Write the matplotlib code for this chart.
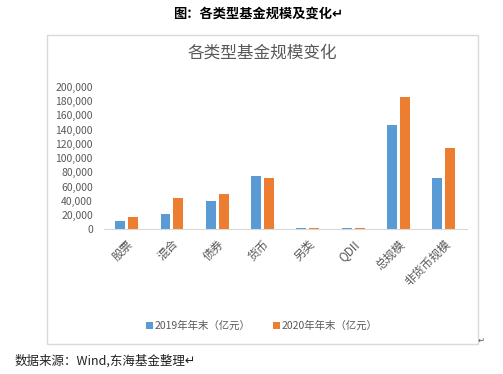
"""Grouped bar chart: fund size by type, 2019 vs 2020."""
import matplotlib.pyplot as plt
import numpy as np
from matplotlib.patches import Rectangle
from matplotlib.ticker import FuncFormatter

plt.rcParams['font.family'] = ['Noto Sans CJK SC', 'DejaVu Sans']

categories = ['股票', '混合', '债券', '货币', '另类', 'QDII', '总规模', '非货币规模']
size_2019 = [12000, 21500, 39700, 74700, 1500, 1200, 146200, 71900]
size_2020 = [17200, 43900, 49500, 71900, 1600, 1400, 185500, 114000]
series_names = ['2019年年末（亿元）', '2020年年末（亿元）']

blue = '#5b9bd5'
orange = '#ed7d31'
grey = '#595959'

W, H = 503, 374
fig = plt.figure(figsize=(W / 100, H / 100), dpi=100)

# chart frame
fig.patches.append(Rectangle((47 / W, 1 - 344 / H), (478 - 47) / W, (344 - 35) / H,
                             transform=fig.transFigure, fill=False,
                             edgecolor='#d9d9d9', linewidth=1))

ax = fig.add_axes([104 / W, 1 - 229.3 / H, (466.5 - 104) / W, (229.3 - 86.7) / H])
x = np.arange(len(categories))
bw = 0.22
ax.bar(x - 0.143, size_2019, bw, color=blue, label=series_names[0])
ax.bar(x + 0.143, size_2020, bw, color=orange, label=series_names[1])

ax.set_xlim(-0.5, len(categories) - 0.5)
ax.set_ylim(0, 200000)
ax.set_yticks(np.arange(0, 200001, 20000))
ax.yaxis.set_major_formatter(FuncFormatter(lambda v, p: f'{int(v):,}'))
ax.set_xticks(x)
ax.set_xticklabels(categories, rotation=45, ha='right', rotation_mode='anchor')
ax.tick_params(axis='both', length=0, colors=grey)
ax.tick_params(axis='y', pad=8, labelsize=7.5)
ax.tick_params(axis='x', pad=6, labelsize=8.5)
for s in ['top', 'right', 'left']:
    ax.spines[s].set_visible(False)
ax.spines['bottom'].set_color('#d9d9d9')

fig.text(262 / W, 1 - 53 / H, '各类型基金规模变化', ha='center', va='center',
         fontsize=12, color=grey)
fig.text(258 / W, 1 - 14 / H, '图：各类型基金规模及变化↵', ha='center', va='center',
         fontsize=9.5, fontweight='bold', color='black')
fig.text(481 / W, 1 - 340 / H, '↵', ha='center', va='center', fontsize=6, color=grey)
fig.text(15 / W, 1 - 361 / H, '数据来源：Wind,东海基金整理↵', ha='left', va='center',
         fontsize=9, color='#222222')

fig.legend(loc='center', bbox_to_anchor=(262 / W, 1 - 326 / H), ncol=2, frameon=False,
           fontsize=7.5, labelcolor=grey, handlelength=0.6, handleheight=0.6,
           handletextpad=0.2, columnspacing=2.2)

fig.savefig('out.png', dpi=100)
